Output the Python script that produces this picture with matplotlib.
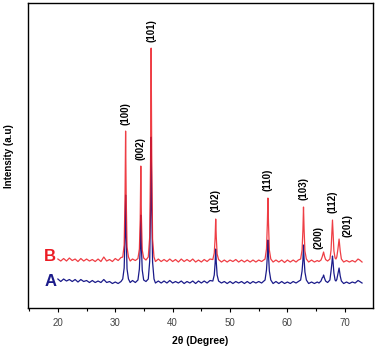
import matplotlib
matplotlib.use("Agg")
import matplotlib.pyplot as plt
import numpy as np

plt.rcParams['font.family'] = ['Liberation Sans', 'DejaVu Sans']

# 2theta positions (degree), shared by both patterns
two_theta = [
    20, 20.5, 21, 21.5, 22, 22.5, 23, 23.5, 24, 24.5, 25, 25.5, 26, 26.5, 27, 27.5,
    28, 28.5, 29, 29.5, 30, 30.5, 31,
    31.3, 31.55, 31.7, 31.8, 31.9, 32.05, 32.3,
    32.6, 33.0, 33.5,
    33.95, 34.2, 34.35, 34.45, 34.55, 34.7, 34.95,
    35.35,
    35.75, 36.0, 36.15, 36.25, 36.35, 36.5, 36.75,
    37, 37.5, 38, 38.5, 39, 39.5, 40, 40.5, 41, 41.5, 42, 42.5, 43, 43.5, 44, 44.5,
    45, 45.5, 46, 46.5,
    47.0, 47.25, 47.4, 47.5, 47.6, 47.75, 48.0,
    48.5, 49, 49.5, 50, 50.5, 51, 51.5, 52, 52.5, 53, 53.5, 54, 54.5, 55, 55.5,
    56.1, 56.35, 56.5, 56.6, 56.7, 56.85, 57.1,
    57.5, 58, 58.5, 59, 59.5, 60, 60.5, 61, 61.5, 61.9,
    62.3, 62.55, 62.7, 62.8, 62.9, 63.05, 63.3,
    63.7, 64.2, 64.7, 65.2, 65.5,
    65.85, 66.05, 66.2, 66.3, 66.45, 66.65,
    67.0,
    67.4, 67.6, 67.75, 67.85, 67.95, 68.1, 68.3,
    68.45,
    68.6, 68.8, 68.9, 69.0, 69.1, 69.2, 69.4,
    69.8, 70.3, 70.8, 71.3, 71.8, 72.3, 72.6, 73.0,
]

# sample A (lower pattern)
intensity_a = [
    29, 26.5, 29, 27, 28.5, 26.5, 28.5, 26, 28.5, 26.5, 27.5, 25.5, 27.5, 25.5, 27, 25.5,
    28.5, 25.5, 26.5, 24.5, 26, 24.5, 26.5,
    29, 40, 72, 113, 74, 39, 29,
    25.5, 27.5, 25.5,
    28, 39, 60, 93, 62, 38, 28,
    26.5,
    29, 47, 100, 171, 104, 46, 29,
    25, 27, 25, 27, 25, 27.5, 25, 26.5, 25, 27, 24.5, 26.5, 25, 27, 24.5, 27,
    25, 27, 25, 27.5,
    27, 33, 45, 59, 46, 33, 27,
    25, 26.5, 24.5, 26.5, 24.5, 26.5, 25, 26.5, 24.5, 26.5, 24.5, 26.5, 25, 26.5, 25,
    28, 38, 52, 68, 53, 37, 28,
    24.5, 26.5, 24.5, 26.5, 24.5, 26, 24.5, 26.5, 25, 26.5,
    28, 37, 48, 63, 49, 36, 28,
    24.5, 26, 24.5, 26, 25,
    27, 30, 31, 33, 30, 27,
    25.5,
    28, 37, 45, 52, 46, 35, 28,
    27,
    28.5, 34, 37, 40, 36, 32, 27,
    24.5, 26, 24.5, 26, 25, 27.5, 26.5, 25,
]

# sample B (upper pattern)
intensity_b = [
    49, 47, 49.5, 47, 50, 47.5, 49, 46.5, 49.5, 47, 49, 47, 48.5, 46.5, 49, 46.5,
    51, 47, 48.5, 46.5, 49.5, 47.5, 50.5,
    51, 63, 110, 177, 112, 61, 51,
    47, 49, 47.5,
    49.5, 59, 90, 142, 92, 58, 50,
    48,
    51, 71, 150, 260, 155, 69, 51,
    46.5, 49, 46.5, 48.5, 46.5, 49, 46.5, 48.5, 46, 49, 46.5, 48.5, 46.5, 49, 46, 48,
    46, 48.5, 46.5, 49,
    48.5, 55, 70, 89, 71, 54, 48.5,
    46, 48, 46, 48, 46.5, 48.5, 46, 48, 46, 48, 46, 48, 46, 48, 46.5,
    49, 59, 84, 110, 85, 58, 49,
    46, 48, 46, 48, 45.5, 48, 46, 48, 46, 48,
    49, 58, 78, 101, 79, 57, 49,
    46, 48, 46, 47.5, 46.5,
    48, 51, 54, 56, 52, 48.5,
    47,
    49, 58, 75, 88, 76, 57, 50,
    49,
    51, 59, 64, 69, 63, 57, 49,
    46, 47.5, 46, 47.5, 46, 49, 48, 46,
]

# reflections: label, peak position, label x-shift (points), gap above peak (points)
hkl_labels = ['(100)', '(002)', '(101)', '(102)', '(110)', '(103)', '(200)', '(112)', '(201)']
hkl_pos = [31.8, 34.45, 36.25, 47.5, 56.6, 62.8, 66.3, 67.85, 69.0]
hkl_dx = [0, 0, 0, 0, 0, 0, -4, 0, 6]
hkl_gap = [4.5, 4.5, 4.5, 5, 5, 5, 2, 5, 1.5]

red = '#ec1c24'
navy = '#1b1b8a'

fig = plt.figure(figsize=(3.79, 3.5), dpi=100)
ax = fig.add_axes([0.074, 0.12, 0.910, 0.871])

ax.plot(two_theta, intensity_a, color=navy, lw=0.9)
ax.plot(two_theta, intensity_b, color=red, lw=0.9, alpha=0.85)

xb = np.array(two_theta)
yb = np.array(intensity_b)
for lab, pos, dx, gap in zip(hkl_labels, hkl_pos, hkl_dx, hkl_gap):
    top = yb[np.abs(xb - pos) < 0.2].max()
    ax.annotate(lab, xy=(pos, top), xytext=(dx, gap), textcoords='offset points',
                rotation=90, ha='center', va='bottom', fontsize=7, fontweight='bold')

ax.text(18.6, 52, 'B', color=red, fontsize=12, fontweight='bold',
        ha='center', va='center')
ax.text(18.8, 26.5, 'A', color=navy, fontsize=12, fontweight='bold',
        ha='center', va='center')

ax.set_xlim(14.8, 74.9)
ax.set_ylim(0, 305)
ax.set_xticks([20, 30, 40, 50, 60, 70])
ax.set_xticks(np.arange(15, 75, 5), minor=True)
ax.set_yticks([])
ax.tick_params(axis='x', which='major', direction='out', length=3, width=0.8,
               labelsize=7, labelcolor='#444444', pad=4, top=False)
ax.tick_params(axis='x', which='minor', direction='out', length=2, width=0.8, top=False)
for s in ax.spines.values():
    s.set_linewidth(1.0)

ax.set_xlabel('2θ (Degree)', fontsize=7.5, fontweight='bold', labelpad=6)
ax.set_ylabel('Intensity (a.u)', fontsize=7, fontweight='bold', labelpad=10)

fig.savefig('out.png', dpi=100)
